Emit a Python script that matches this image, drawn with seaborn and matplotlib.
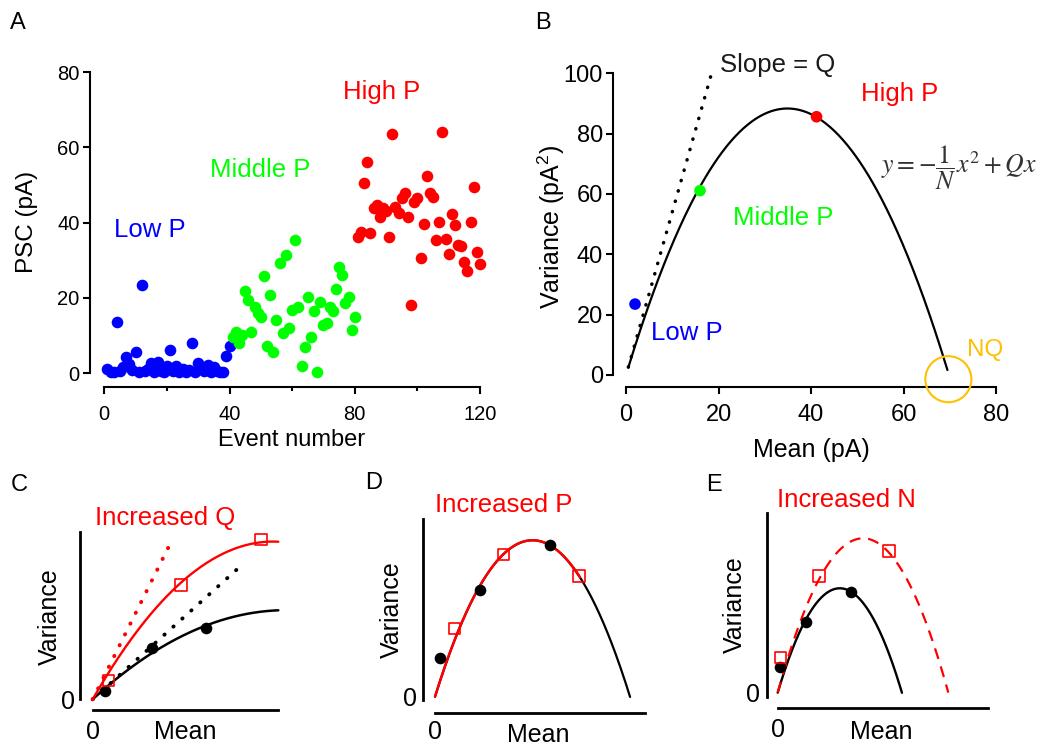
import numpy as np
import matplotlib
matplotlib.use("Agg")
import matplotlib.pyplot as plt
import seaborn as sns

# ---------------- data ----------------
# Panel A: PSC amplitude per event
low_events = list(range(1, 41))
low_psc = [1.1, 0.3, 0.2, 13.7, 0.5, 1.5, 4.4, 2.5, 0.8, 5.5, 0.3, 23.4, 0.5, 1.2,
           2.8, 0.4, 3.0, 0.6, 0.2, 1.8, 6.2, 0.5, 2.0, 0.4, 1.0, 0.3, 0.8, 8.1,
           0.3, 2.8, 1.5, 0.5, 2.2, 0.3, 1.7, 0.6, 0.3, 0.2, 4.5, 7.2]
mid_events = list(range(41, 81))
mid_psc = [9.7, 11.0, 8.0, 10.0, 21.7, 19.5, 11.0, 17.5, 16.0, 14.8, 25.7, 7.1,
           20.8, 5.7, 14.1, 29.2, 10.6, 31.4, 11.9, 16.8, 35.4, 17.7, 1.8, 6.8,
           20.1, 9.5, 16.4, 0.2, 19.0, 12.8, 13.4, 17.7, 16.4, 22.3, 28.3, 26.1,
           18.6, 20.3, 11.5, 15.0]
high_events = list(range(81, 121))
high_psc = [36.3, 37.6, 50.6, 56.2, 37.3, 43.8, 44.7, 41.6, 43.8, 43.0, 36.3, 63.6,
            44.2, 42.5, 46.5, 47.8, 41.4, 18.1, 45.6, 46.5, 30.7, 39.6, 52.4, 47.8,
            46.7, 35.4, 40.2, 64.2, 35.6, 31.6, 42.3, 39.4, 34.0, 33.8, 29.6, 27.2,
            40.2, 49.5, 32.3, 29.0]

# Panel B: mean-variance
b_N, b_Q = 13.8, 5.06
b_mean_range = (0.5, 69.5)
b_slope_mean = [0.5, 18.5]
b_slope_var = [2.6, 100.0]
b_point_mean = [1.95, 16.0, 41.2]
b_point_var = [23.5, 61.1, 85.6]
b_point_labels = ["Low P", "Middle P", "High P"]
b_nq = (69.7, -1.4)

# Panel C: increased Q
c_black = dict(Q=0.92, N=22.7, xmax=10.0)
c_red = dict(Q=1.75, N=11.1, xmax=10.0)
c_black_slope_x, c_black_slope_y = [0.0, 7.94], [0.0, 7.15]
c_red_slope_x, c_red_slope_y = [0.0, 4.26], [0.0, 8.55]
c_dot_x, c_dot_y = [0.66, 3.18, 6.09], [0.45, 2.75, 3.82]
c_sq_x, c_sq_y = [0.84, 4.76, 9.07], [1.0, 6.16, 8.62]

# Panel D: increased P
d_curve = dict(Q=3.21, N=2.893)
d_black_xmax, d_red_xmax = 9.29, 6.9
d_dot_x, d_dot_y = [0.24, 2.14, 5.48], [1.83, 5.08, 7.22]
d_sq_x, d_sq_y = [0.92, 3.25, 6.86], [3.26, 6.79, 5.75]

# Panel E: increased N
e_black = dict(Q=3.363, N=1.754, xmax=5.9)
e_red = dict(Q=3.62, N=2.238, xmax=8.1)
e_dot_x, e_dot_y = [0.11, 1.34, 3.47], [1.2, 3.37, 4.77]
e_sq_x, e_sq_y = [0.14, 1.96, 5.29], [1.66, 5.54, 6.73]

# ---------------- style ----------------
BLUE, GREEN, RED, ORANGE = "#0000FF", "#00FF00", "#FF0000", "#FFC000"
sns.set_style("ticks")
plt.rcParams["font.family"] = ["Liberation Sans", "DejaVu Sans"]
plt.rcParams["mathtext.fontset"] = "custom"
plt.rcParams["mathtext.rm"] = "Liberation Sans"
plt.rcParams["mathtext.it"] = "Liberation Sans:italic"
plt.rcParams["mathtext.bf"] = "Liberation Sans:bold"
plt.rcParams["text.color"] = "black"
plt.rcParams["axes.labelcolor"] = "black"
plt.rcParams["xtick.color"] = "black"
plt.rcParams["ytick.color"] = "black"

W, H = 1043, 747
fig = plt.figure(figsize=(W / 100, H / 100), dpi=100)


def add_ax(left, top, right, bottom):
    ax = fig.add_axes([left / W, 1 - bottom / H, (right - left) / W, (bottom - top) / H])
    ax.set_facecolor("none")
    ax.spines["top"].set_visible(False)
    ax.spines["right"].set_visible(False)
    return ax, (left, top, right, bottom)


def label_coords(ax, rect, axis, x_px, y_px):
    left, top, right, bottom = rect
    fxv = (x_px - left) / (right - left)
    fyv = (bottom - y_px) / (bottom - top)
    if axis == "x":
        ax.xaxis.set_label_coords(fxv, fyv)
        ax.xaxis.label.set_va("center")
    else:
        ax.yaxis.set_label_coords(fxv, fyv)
        ax.yaxis.label.set_va("center")


def ftext(x_px, y_px, s, **kw):
    fig.text(x_px / W, 1 - y_px / H, s, ha="center", va="center", **kw)


def parabola(x, Q, N):
    return Q * x - x ** 2 / N


DOT = (0, (0.1, 3.0))
DOT_SIZE = 70
SQ_SIZE = 66

# ---------------- Panel A ----------------
axA, rA = add_ax(90, 72.3, 480, 386.7)
for ev, val, col in [(low_events, low_psc, BLUE), (mid_events, mid_psc, GREEN),
                     (high_events, high_psc, RED)]:
    sns.scatterplot(x=ev, y=val, color=col, s=DOT_SIZE, linewidth=0, ax=axA,
                    clip_on=False, legend=False, zorder=3)
axA.set_xlim(-4.57, 120)
axA.set_ylim(-3.63, 80)
axA.spines["left"].set_bounds(0, 80)
axA.spines["bottom"].set_bounds(0, 120)
for s in ("left", "bottom"):
    axA.spines[s].set_linewidth(1.5)
    axA.spines[s].set_color("black")
axA.set_xticks([0, 40, 80, 120])
axA.set_xticks([20, 60, 100], minor=True)
axA.set_yticks([0, 20, 40, 60, 80])
axA.tick_params(axis="both", which="major", labelsize=14.5, width=1.5, length=5)
axA.tick_params(axis="x", which="major", pad=8)
axA.tick_params(axis="y", which="major", pad=2.4)
axA.tick_params(axis="x", which="minor", width=1.5, length=3)
axA.set_xlabel("Event number", fontsize=17)
axA.set_ylabel("PSC (pA)", fontsize=17.5)
label_coords(axA, rA, "x", 291.7, 440)
label_coords(axA, rA, "y", 26.7, 221.7)
axA.text(14.6, 38.1, "Low P", color=BLUE, fontsize=18.5, ha="center", va="center")
axA.text(49.8, 54.0, "Middle P", color=GREEN, fontsize=18.5, ha="center", va="center")
axA.text(88.6, 74.8, "High P", color=RED, fontsize=18.5, ha="center", va="center")

# ---------------- Panel B ----------------
axB, rB = add_ax(613.3, 73.3, 996, 387.3)
bx = np.linspace(b_mean_range[0], b_mean_range[1], 300)
sns.lineplot(x=bx, y=parabola(bx, b_Q, b_N), color="black", linewidth=1.6,
             ax=axB, estimator=None, sort=False, clip_on=False)
sns.lineplot(x=b_slope_mean, y=b_slope_var, color="black", linewidth=2.5,
             linestyle=DOT, dash_capstyle="round", ax=axB, estimator=None,
             sort=False, clip_on=False)
sns.scatterplot(x=b_point_mean, y=b_point_var, hue=b_point_labels,
                palette=[BLUE, GREEN, RED], s=DOT_SIZE, linewidth=0, ax=axB,
                clip_on=False, legend=False, zorder=3)
sns.scatterplot(x=[b_nq[0]], y=[b_nq[1]], marker="o", s=1100, color=ORANGE,
                facecolor="none", edgecolor=ORANGE, linewidth=1.5, ax=axB,
                clip_on=False, legend=False, zorder=4)
axB.set_xlim(-2.75, 80)
axB.set_ylim(-4.08, 100)
axB.spines["left"].set_bounds(0, 100)
axB.spines["bottom"].set_bounds(0, 80)
for s in ("left", "bottom"):
    axB.spines[s].set_linewidth(1.5)
    axB.spines[s].set_color("black")
axB.set_xticks([0, 20, 40, 60, 80])
axB.set_yticks([0, 20, 40, 60, 80, 100])
axB.tick_params(axis="both", labelsize=17, width=1.5, length=5)
axB.tick_params(axis="x", pad=7)
axB.tick_params(axis="y", pad=2.4)
axB.set_xlabel("Mean (pA)", fontsize=18)
axB.set_ylabel("Variance (pA$^2$)", fontsize=18)
label_coords(axB, rB, "x", 811.7, 450)
label_coords(axB, rB, "y", 551.7, 226.7)
axB.text(20.3, 102.8, "Slope = Q", color="#1a1a1a", fontsize=18.5, ha="left", va="center")
axB.text(59.2, 93.3, "High P", color=RED, fontsize=18.5, ha="center", va="center")
axB.text(34.0, 52.0, "Middle P", color=GREEN, fontsize=18.5, ha="center", va="center")
axB.text(13.1, 13.8, "Low P", color=BLUE, fontsize=18.5, ha="center", va="center")
axB.text(77.6, 8.3, "NQ", color=ORANGE, fontsize=17.5, ha="center", va="center")
axB.text(72.0, 68.5, r"$y=-\dfrac{1}{N}x^2+Qx$", math_fontfamily="stix",
         color="#333333", fontsize=18.5, ha="center", va="center")


def small_axes(rect, xlim, ylim, ybounds, ypad, xpad):
    ax, r = add_ax(*rect)
    ax.set_xlim(*xlim)
    ax.set_ylim(*ylim)
    ax.spines["left"].set_bounds(*ybounds)
    ax.spines["bottom"].set_bounds(0, xlim[1])
    for s in ("left", "bottom"):
        ax.spines[s].set_linewidth(2)
        ax.spines[s].set_color("black")
    ax.set_xticks([0])
    ax.set_yticks([0])
    ax.tick_params(axis="both", length=0, labelsize=18)
    ax.tick_params(axis="y", pad=ypad)
    ax.tick_params(axis="x", pad=xpad)
    ax.set_xlabel("Mean", fontsize=18)
    ax.set_ylabel("Variance", fontsize=18)
    return ax, r


# ---------------- Panel C ----------------
axC, rC = small_axes((80, 531.7, 278.3, 710), (-0.684, 10), (-0.577, 9.03),
                     (0, 9.03), 3.6, 7.2)
cx = np.linspace(0, c_black["xmax"], 200)
sns.lineplot(x=cx, y=parabola(cx, c_black["Q"], c_black["N"]), color="black",
             linewidth=1.8, ax=axC, estimator=None, sort=False, clip_on=False)
cx2 = np.linspace(0, c_red["xmax"], 200)
sns.lineplot(x=cx2, y=parabola(cx2, c_red["Q"], c_red["N"]), color=RED,
             linewidth=1.7, ax=axC, estimator=None, sort=False, clip_on=False)
sns.lineplot(x=c_black_slope_x, y=c_black_slope_y, color="black", linewidth=2.8,
             linestyle=DOT, dash_capstyle="round", ax=axC, estimator=None, sort=False)
sns.lineplot(x=c_red_slope_x, y=c_red_slope_y, color=RED, linewidth=2.8,
             linestyle=DOT, dash_capstyle="round", ax=axC, estimator=None, sort=False)
sns.scatterplot(x=c_dot_x, y=c_dot_y, color="black", s=DOT_SIZE, linewidth=0, ax=axC,
                clip_on=False, legend=False, zorder=3)
sns.scatterplot(x=c_sq_x, y=c_sq_y, marker="s", s=SQ_SIZE, color=RED, facecolor="none",
                edgecolor=RED, linewidth=1.2, ax=axC, clip_on=False, legend=False, zorder=4)
label_coords(axC, rC, "x", 185, 731.7)
label_coords(axC, rC, "y", 50, 616.7)

# ---------------- Panel D ----------------
axD, rD = small_axes((422.7, 519.3, 645, 713.3), (-0.586, 10), (-0.79, 8.45),
                     (-0.16, 8.45), 3.9, 4.8)
dx = np.linspace(0, d_black_xmax, 200)
sns.lineplot(x=dx, y=parabola(dx, d_curve["Q"], d_curve["N"]), color="black",
             linewidth=1.6, ax=axD, estimator=None, sort=False, clip_on=False)
dx2 = np.linspace(0, d_red_xmax, 200)
sns.lineplot(x=dx2, y=parabola(dx2, d_curve["Q"], d_curve["N"]), color=RED,
             linewidth=1.8, ax=axD, estimator=None, sort=False, clip_on=False)
sns.scatterplot(x=d_dot_x, y=d_dot_y, color="black", s=DOT_SIZE, linewidth=0, ax=axD,
                clip_on=False, legend=False, zorder=3)
sns.scatterplot(x=d_sq_x, y=d_sq_y, marker="s", s=SQ_SIZE, color=RED, facecolor="none",
                edgecolor=RED, linewidth=1.2, ax=axD, clip_on=False, legend=False, zorder=4)
label_coords(axD, rD, "x", 538.3, 735)
label_coords(axD, rD, "y", 391.7, 610)

# ---------------- Panel E ----------------
axE, rE = small_axes((766.7, 513.3, 988.3, 708.3), (-0.522, 10), (-0.741, 8.52),
                     (-0.19, 8.52), 4.8, 7.0)
ex = np.linspace(0, e_black["xmax"], 200)
sns.lineplot(x=ex, y=parabola(ex, e_black["Q"], e_black["N"]), color="black",
             linewidth=1.7, ax=axE, estimator=None, sort=False, clip_on=False)
ex2 = np.linspace(0, e_red["xmax"], 200)
sns.lineplot(x=ex2, y=parabola(ex2, e_red["Q"], e_red["N"]), color=RED,
             linewidth=1.6, linestyle=(0, (5, 3.5)), ax=axE, estimator=None,
             sort=False, clip_on=False)
sns.scatterplot(x=e_dot_x, y=e_dot_y, color="black", s=DOT_SIZE, linewidth=0, ax=axE,
                clip_on=False, legend=False, zorder=3)
sns.scatterplot(x=e_sq_x, y=e_sq_y, marker="s", s=SQ_SIZE, color=RED, facecolor="none",
                edgecolor=RED, linewidth=1.2, ax=axE, clip_on=False, legend=False, zorder=4)
label_coords(axE, rE, "x", 881.7, 731.7)
label_coords(axE, rE, "y", 735, 605)

# ---------------- panel letters & titles ----------------
for (x, y, s) in [(18.3, 23.3, "A"), (543.3, 23.3, "B"), (19, 485, "C"),
                  (373.3, 483.3, "D"), (714, 485, "E")]:
    ftext(x, y, s, fontsize=17, color="black")
ftext(165, 518.3, "Increased Q", fontsize=18.5, color=RED)
ftext(503.3, 505, "Increased P", fontsize=18.5, color=RED)
ftext(846.7, 500, "Increased N", fontsize=18.5, color=RED)

fig.savefig("out.png", dpi=100)
